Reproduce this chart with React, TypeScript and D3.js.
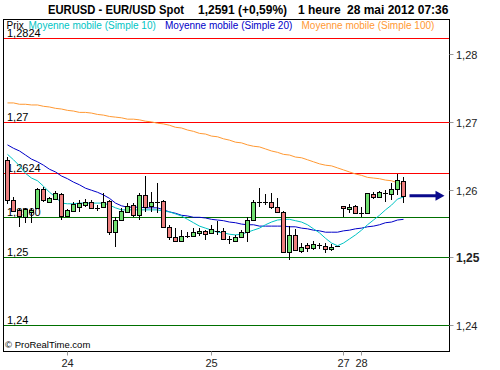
import React from "react";
import * as d3 from "d3";

// hourly EUR/USD candles, 23 mai 14h -> 28 mai 07h
const days = ["23", "24", "25", "27", "28"];
const candlesPerDay = [10, 24, 22, 3, 8];

const open = [
  1.2644, 1.2585, 1.2570, 1.2559, 1.2567, 1.2573, 1.2601, 1.2582, 1.2586, 1.2593,
  1.2561, 1.2568, 1.2574, 1.2577, 1.2582, 1.2573, 1.2574, 1.2583, 1.2537, 1.2555,
  1.2567, 1.2577, 1.2562, 1.2592, 1.2576, 1.2582, 1.2583, 1.2545, 1.2530, 1.2524,
  1.2531, 1.2531, 1.2536, 1.2539, 1.2536, 1.2539, 1.2539, 1.2527, 1.2524, 1.2530,
  1.2537, 1.2555, 1.2582, 1.2582, 1.2582, 1.2574, 1.2567, 1.2508, 1.2533, 1.2509,
  1.2518, 1.2514, 1.2518, 1.2517, 1.2512, 1.2517, 1.2576, 1.2571, 1.2576, 1.2565,
  1.2565, 1.2593, 1.2589, 1.2595, 1.2593, 1.2601, 1.2613,
];
const high = [
  1.2648, 1.2589, 1.2571, 1.2573, 1.2573, 1.2602, 1.2604, 1.2589, 1.2598, 1.2595,
  1.2571, 1.2582, 1.2585, 1.2586, 1.2585, 1.2577, 1.2595, 1.2585, 1.2559, 1.2573,
  1.2580, 1.2580, 1.2595, 1.2620, 1.2596, 1.2610, 1.2585, 1.2548, 1.2543, 1.2540,
  1.2537, 1.2543, 1.2543, 1.2540, 1.2548, 1.2553, 1.2543, 1.2531, 1.2533, 1.2540,
  1.2559, 1.2585, 1.2602, 1.2593, 1.2595, 1.2587, 1.2568, 1.2546, 1.2542, 1.2521,
  1.2521, 1.2524, 1.2521, 1.2521, 1.2520, 1.2517, 1.2576, 1.2579, 1.2577, 1.2574,
  1.2595, 1.2596, 1.2598, 1.2599, 1.2610, 1.2623, 1.2618,
];
const low = [
  1.2579, 1.2567, 1.2545, 1.2551, 1.2551, 1.2571, 1.2582, 1.2580, 1.2585, 1.2555,
  1.2559, 1.2567, 1.2567, 1.2574, 1.2571, 1.2568, 1.2573, 1.2533, 1.2515, 1.2553,
  1.2565, 1.2559, 1.2555, 1.2567, 1.2567, 1.2565, 1.2543, 1.2525, 1.2523, 1.2523,
  1.2528, 1.2530, 1.2531, 1.2525, 1.2536, 1.2533, 1.2525, 1.2520, 1.2523, 1.2528,
  1.2523, 1.2553, 1.2574, 1.2577, 1.2571, 1.2565, 1.2506, 1.2496, 1.2509, 1.2506,
  1.2508, 1.2511, 1.2512, 1.2506, 1.2509, 1.2517, 1.2559, 1.2565, 1.2565, 1.2559,
  1.2565, 1.2586, 1.2589, 1.2582, 1.2585, 1.2592, 1.2580,
];
const close = [
  1.2585, 1.2568, 1.2561, 1.2571, 1.2570, 1.2601, 1.2585, 1.2587, 1.2595, 1.2561,
  1.2570, 1.2579, 1.2580, 1.2582, 1.2573, 1.2573, 1.2582, 1.2537, 1.2555, 1.2568,
  1.2576, 1.2562, 1.2592, 1.2574, 1.2582, 1.2582, 1.2545, 1.2530, 1.2524, 1.2531,
  1.2531, 1.2537, 1.2539, 1.2534, 1.2542, 1.2539, 1.2527, 1.2527, 1.2530, 1.2537,
  1.2555, 1.2582, 1.2582, 1.2582, 1.2574, 1.2567, 1.2508, 1.2533, 1.2511, 1.2515,
  1.2514, 1.2520, 1.2518, 1.2512, 1.2515, 1.2517, 1.2573, 1.2574, 1.2565, 1.2565,
  1.2595, 1.2589, 1.2596, 1.2595, 1.2601, 1.2614, 1.2591,
];

// moving averages
const ma10 = [
  1.2652, 1.2644, 1.2635, 1.2624, 1.2617, 1.2613, 1.2605, 1.2596, 1.2589, 1.2580,
  1.2579, 1.2579, 1.2580, 1.2580, 1.2580, 1.2580, 1.2580, 1.2577, 1.2573, 1.2570,
  1.2570, 1.2570, 1.2570, 1.2570, 1.2570, 1.2570, 1.2568, 1.2567, 1.2564, 1.2561,
  1.2556, 1.2551, 1.2546, 1.2543, 1.2540, 1.2537, 1.2536, 1.2534, 1.2533, 1.2534,
  1.2537, 1.2540, 1.2543, 1.2548, 1.2552, 1.2555, 1.2556, 1.2556, 1.2554, 1.2552,
  1.2548, 1.2542, 1.2536, 1.2528, 1.2521, 1.2517, 1.2521, 1.2527, 1.2533, 1.2540,
  1.2548, 1.2555, 1.2562, 1.2570, 1.2577, 1.2586, 1.2589,
];
const ma20 = [
  1.2666, 1.2661, 1.2657, 1.2651, 1.2645, 1.2641, 1.2636, 1.2630, 1.2626, 1.2620,
  1.2616, 1.2611, 1.2607, 1.2602, 1.2599, 1.2596, 1.2592, 1.2587, 1.2580, 1.2576,
  1.2574, 1.2574, 1.2574, 1.2573, 1.2573, 1.2573, 1.2570, 1.2567, 1.2565, 1.2562,
  1.2561, 1.2559, 1.2559, 1.2558, 1.2556, 1.2555, 1.2554, 1.2552, 1.2551, 1.2549,
  1.2548, 1.2548, 1.2546, 1.2546, 1.2546, 1.2546, 1.2546, 1.2545, 1.2545, 1.2543,
  1.2542, 1.2540, 1.2539, 1.2537, 1.2537, 1.2537, 1.2539, 1.2540, 1.2542, 1.2543,
  1.2545, 1.2546, 1.2548, 1.2551, 1.2552, 1.2555, 1.2556,
];
const ma100 = [
  1.2728, 1.2728, 1.2726, 1.2726, 1.2725, 1.2725, 1.2723, 1.2722, 1.2720, 1.2719,
  1.2717, 1.2716, 1.2714, 1.2714, 1.2713, 1.2711, 1.2710, 1.2708, 1.2707, 1.2706,
  1.2704, 1.2704, 1.2703, 1.2701, 1.2700, 1.2698, 1.2697, 1.2695, 1.2692, 1.2691,
  1.2688, 1.2686, 1.2683, 1.2682, 1.2679, 1.2678, 1.2675, 1.2673, 1.2670, 1.2669,
  1.2666, 1.2664, 1.2663, 1.2660, 1.2657, 1.2655, 1.2652, 1.2651, 1.2648, 1.2647,
  1.2644, 1.2641, 1.2638, 1.2636, 1.2635, 1.2632, 1.2629, 1.2626, 1.2623, 1.2621,
  1.2618, 1.2617, 1.2616, 1.2614, 1.2613, 1.2610, 1.2607,
];

const redLevels = [1.2824, 1.27, 1.2624];
const redLabels = ["1,2824", "1,27", "1,2624"];
const greenLevels = [1.256, 1.25, 1.24];
const greenLabels = ["1,2560", "1,25", "1,24"];
const priceTicks = [1.24, 1.25, 1.26, 1.27, 1.28];

const legend = [
  { text: "Prix", color: "#000" },
  { text: "Moyenne mobile (Simple 10)", color: "#00c4c4" },
  { text: "Moyenne mobile (Simple 20)", color: "#0000c8" },
  { text: "Moyenne mobile (Simple 100)", color: "#ff9933" },
];

const font = "'Liberation Sans', Arial, sans-serif";
const box = { left: 3.5, top: 19.5, right: 449.5, bottom: 351.5 };

export default function App() {
  const n = open.length;
  const x = d3.scaleLinear().domain([0, n - 1]).range([7.5, 403.5]);
  const y = d3.scaleLinear().domain([1.236, 1.2852]).range([352, 19]);
  const line = d3
    .line<number>()
    .x((_, i) => x(i))
    .y((d) => y(d));

  const starts = [0, ...d3.cumsum(candlesPerDay)].slice(0, days.length);
  const dayTicks = days.map((d, i) => ({ label: d, idx: starts[i] })).slice(1);
  const fmtTick = (v: number) => v.toFixed(2).replace(".", ",");

  const last = close[n - 1];
  const ay = y(last);
  const ax = x(n - 1) + 6;

  const legendX = [6.5, 28.5, 165, 301.5];

  return (
    <svg
      width={500}
      height={370}
      style={{ position: "absolute", left: 0, top: 0, background: "#fff" }}
      fontFamily={font}
    >
      <defs>
        <clipPath id="plot">
          <rect x={box.left} y={box.top} width={box.right - box.left} height={box.bottom - box.top} />
        </clipPath>
      </defs>

      {/* title */}
      <g fontSize={12} fontWeight="bold" fill="#000">
        <text x={48} y={14} textLength={136} lengthAdjust="spacingAndGlyphs">EURUSD - EUR/USD Spot</text>
        <text x={198} y={14}>1,2591 (+0,59%)</text>
        <text x={298} y={14}>1 heure</text>
        <text x={347} y={14}>28 mai 2012 07:36</text>
      </g>

      {/* level lines */}
      <g clipPath="url(#plot)">
        {redLevels.map((v, i) => (
          <g key={"r" + i}>
            <line x1={box.left} x2={box.right} y1={Math.round(y(v)) + 0.5} y2={Math.round(y(v)) + 0.5} stroke="#ff0000" />
            <text x={7} y={Math.round(y(v)) - 1.5} fontSize={11} fill="#000">{redLabels[i]}</text>
          </g>
        ))}
        {greenLevels.map((v, i) => (
          <g key={"g" + i}>
            <line x1={box.left} x2={box.right} y1={Math.round(y(v)) + 0.5} y2={Math.round(y(v)) + 0.5} stroke="#007000" />
            <text x={7} y={Math.round(y(v)) - 1.5} fontSize={11} fill="#000">{greenLabels[i]}</text>
          </g>
        ))}
      </g>

      {/* legend */}
      <g fontSize={10}>
        {legend.map((l, i) => (
          <text key={i} x={legendX[i]} y={29} fill={l.color}>{l.text}</text>
        ))}
      </g>

      <g clipPath="url(#plot)">
        <path d={line(ma100) || ""} fill="none" stroke="#ff9933" strokeWidth={1} />
        <path d={line(ma20) || ""} fill="none" stroke="#0000c8" strokeWidth={1} />
        <path d={line(ma10) || ""} fill="none" stroke="#00c4c4" strokeWidth={1} />

        {open.map((o, i) => {
          const c = close[i];
          const cx = x(i);
          const top = Math.round(y(Math.max(o, c)));
          const bot = Math.round(y(Math.min(o, c)));
          const up = c > o;
          return (
            <g key={i}>
              <line x1={cx} x2={cx} y1={Math.round(y(high[i]))} y2={Math.round(y(low[i]))} stroke="#000" />
              {bot - top < 1 ? (
                <line x1={cx - 2.5} x2={cx + 2.5} y1={top + 0.5} y2={top + 0.5} stroke="#000" />
              ) : (
                <rect
                  x={cx - 2}
                  y={top + 0.5}
                  width={4}
                  height={bot - top}
                  fill={up ? "#70e070" : "#ee7f7f"}
                  stroke="#000"
                />
              )}
            </g>
          );
        })}

        {/* last price arrow */}
        <line x1={ax} x2={ax + 28} y1={ay} y2={ay} stroke="#0a0a8c" strokeWidth={3} />
        <polygon points={`${ax + 26},${ay - 5} ${ax + 35},${ay} ${ax + 26},${ay + 5}`} fill="#0a0a8c" />
      </g>

      {/* frame */}
      <rect x={box.left} y={box.top} width={box.right - box.left} height={box.bottom - box.top} fill="none" stroke="#000" />

      {/* right axis */}
      <g fontSize={11} fill="#222">
        {priceTicks.map((v) => {
          const ty = Math.round(y(v)) + 0.5;
          return (
            <g key={v}>
              <line x1={box.right} x2={box.right + 4} y1={ty} y2={ty} stroke="#999" />
              <text x={456} y={ty + 4} fontWeight={v === 1.25 ? "bold" : "normal"} fontSize={v === 1.25 ? 12 : 11}>
                {fmtTick(v)}
              </text>
            </g>
          );
        })}
      </g>

      {/* bottom axis */}
      <g fontSize={11} fill="#222">
        {dayTicks.map((t) => (
          <g key={t.label}>
            <line x1={x(t.idx)} x2={x(t.idx)} y1={box.bottom} y2={box.bottom + 4} stroke="#999" />
            <text x={x(t.idx)} y={367} textAnchor="middle">{t.label}</text>
          </g>
        ))}
      </g>

      <text x={5} y={348} fontSize={9.5} fill="#000">© ProRealTime.com</text>
    </svg>
  );
}
